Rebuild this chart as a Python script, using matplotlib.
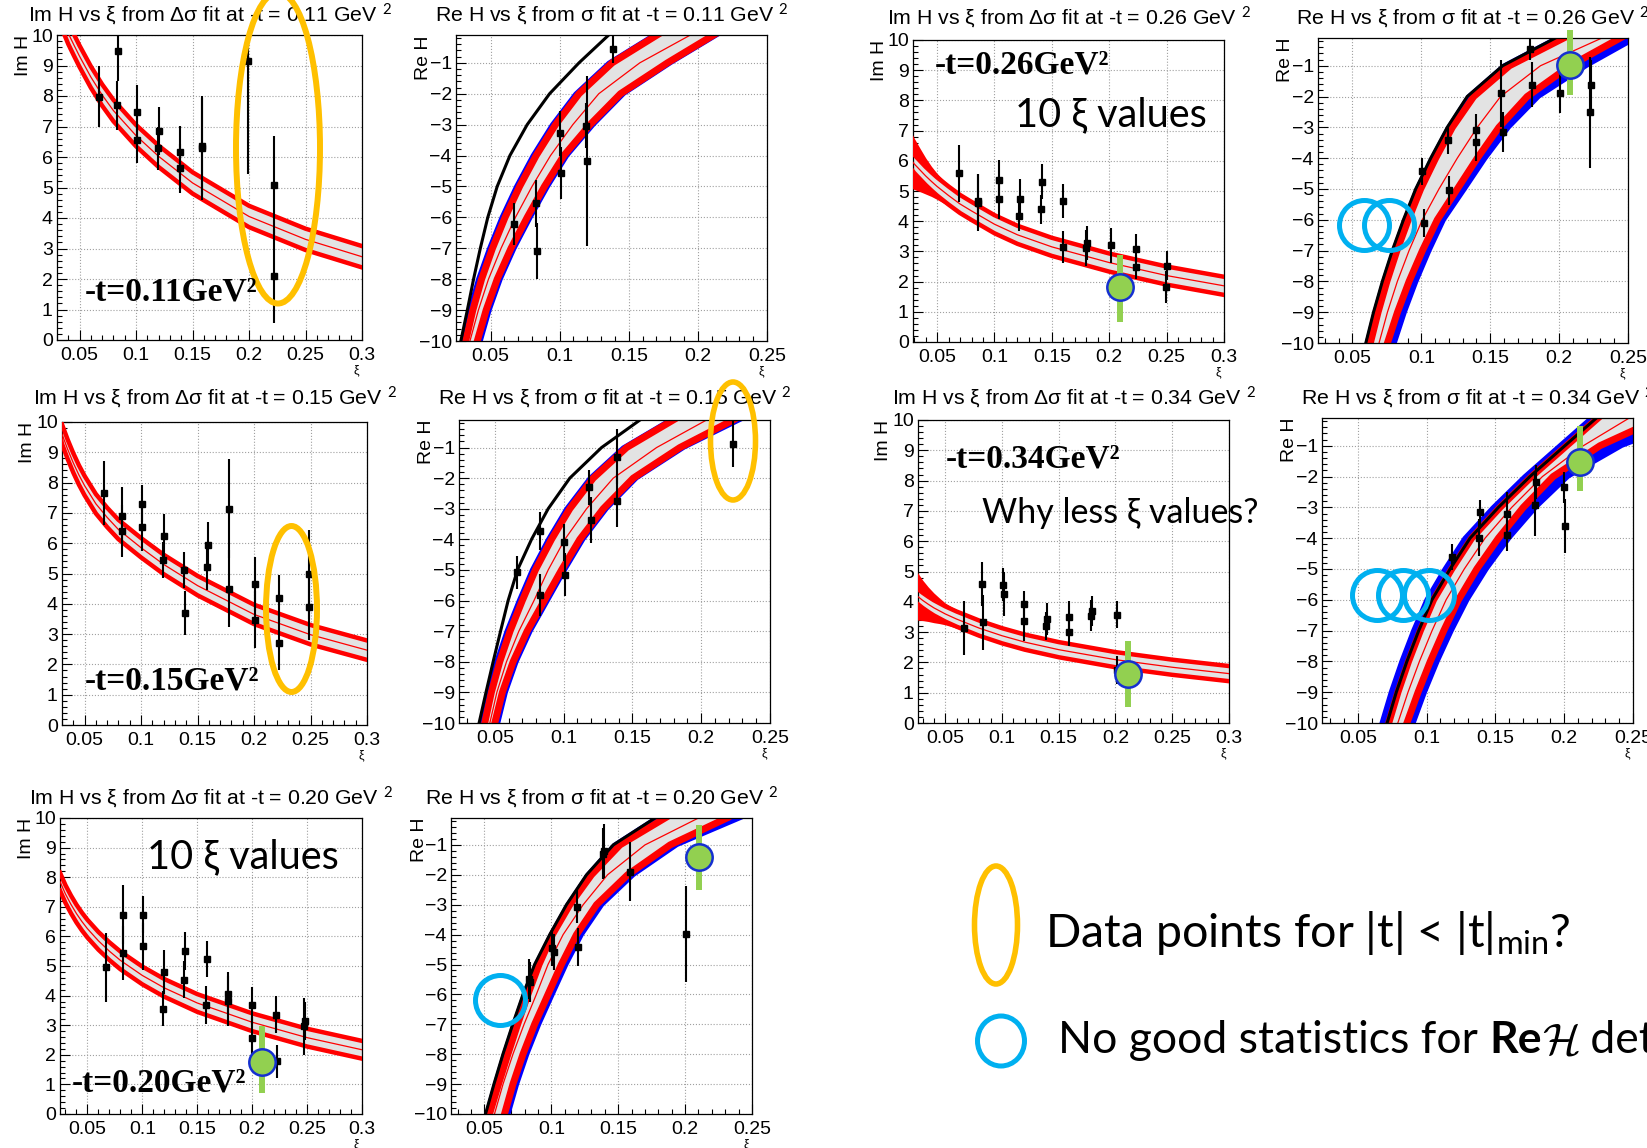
import matplotlib
matplotlib.use("Agg")
import matplotlib.pyplot as plt
from matplotlib.patches import Ellipse
from matplotlib.ticker import FixedLocator, FuncFormatter
from matplotlib.transforms import offset_copy
import numpy as np

W, H = 1647, 1148

# ---------------- Im H fit bands (value vs xi) ----------------
XI_IM = [0.025, 0.03, 0.035, 0.04, 0.045, 0.05, 0.06, 0.07, 0.08, 0.10, 0.12, 0.15, 0.20, 0.25, 0.30]

im_mid_011 = [11.6, 11.05, 10.5, 10.05, 9.67, 9.3, 8.62, 8.03, 7.52, 6.7, 6.02, 5.15, 4.05, 3.3, 2.73]
im_hw_011 = 0.35
im_wedge_011 = [0, 0, 0, 0, 0, 0, 0, 0, 0, 0, 0, 0, 0, 0, 0]

im_mid_015 = [10.3, 9.6, 9.1, 8.65, 8.25, 7.9, 7.3, 6.85, 6.45, 5.85, 5.3, 4.6, 3.65, 2.98, 2.47]
im_hw_015 = 0.32
im_wedge_015 = [0, 0, 0, 0, 0, 0, 0, 0, 0, 0, 0, 0, 0, 0, 0]

im_mid_020 = [7.85, 7.43, 7.08, 6.77, 6.5, 6.26, 5.85, 5.5, 5.19, 4.68, 4.26, 3.75, 3.1, 2.58, 2.17]
im_hw_020 = 0.3
im_wedge_020 = [0.15, 0.08, 0.03, 0, 0, 0, 0, 0, 0, 0, 0, 0, 0, 0, 0]

im_mid_026 = [6.15, 5.9, 5.7, 5.5, 5.32, 5.15, 4.85, 4.57, 4.34, 3.9, 3.55, 3.15, 2.63, 2.2, 1.86]
im_hw_026 = 0.3
im_wedge_026 = [0.7, 0.55, 0.42, 0.3, 0.2, 0.13, 0.05, 0.01, 0, 0, 0, 0, 0, 0, 0]

im_mid_034 = [4.2, 4.05, 3.92, 3.8, 3.7, 3.6, 3.43, 3.28, 3.13, 2.88, 2.67, 2.42, 2.09, 1.84, 1.63]
im_hw_034 = 0.25
im_wedge_034 = [0.55, 0.42, 0.32, 0.24, 0.17, 0.11, 0.05, 0.02, 0, 0, 0, 0, 0, 0, 0]

# ---------------- Im H extracted points ----------------
im_xi_011 = [0.0676, 0.0838, 0.0832, 0.101, 0.101, 0.1206, 0.1197, 0.139, 0.139, 0.158, 0.1585, 0.1994, 0.2224, 0.2218]
im_val_011 = [7.98, 9.49, 7.69, 7.46, 6.56, 6.85, 6.28, 6.17, 5.63, 6.3, 6.35, 9.15, 5.08, 2.1]
im_err_011 = [1.0, 1.0, 0.8, 0.9, 0.75, 0.8, 0.7, 0.85, 0.8, 1.7, 1.6, 3.7, 1.6, 1.55]

im_xi_015 = [0.067, 0.083, 0.083, 0.101, 0.101, 0.12, 0.119, 0.138, 0.139, 0.159, 0.158, 0.178, 0.178,
             0.2006, 0.2006, 0.2224, 0.2224, 0.2488, 0.2485]
im_val_015 = [7.66, 6.9, 6.41, 7.31, 6.54, 6.23, 5.44, 5.11, 3.70, 5.93, 5.22, 7.14, 4.5, 4.65, 3.48, 4.18, 2.71, 4.98, 3.9]
im_err_015 = [1.05, 0.95, 0.85, 0.6, 0.8, 0.72, 0.6, 0.6, 0.73, 0.77, 0.77, 1.63, 1.28, 0.9, 0.95, 0.77, 0.9, 1.47, 1.1]

im_xi_020 = [0.067, 0.0827, 0.0824, 0.1003, 0.1009, 0.1197, 0.1185, 0.1388, 0.1382, 0.1585, 0.1579, 0.1782, 0.1776,
             0.2, 0.2, 0.2221, 0.2227, 0.2479, 0.2473]
im_val_020 = [4.95, 6.73, 5.44, 6.73, 5.66, 4.79, 3.56, 5.5, 4.54, 5.24, 3.69, 4.07, 3.81, 3.67, 2.57, 3.36, 1.78, 3.13, 2.96]
im_err_020 = [1.18, 1.0, 0.9, 0.62, 0.78, 0.74, 0.58, 0.64, 0.62, 0.62, 0.64, 0.72, 0.85, 0.62, 0.7, 0.64, 0.55, 0.64, 0.96]

im_xi_026 = [0.0692, 0.0853, 0.086, 0.1036, 0.1036, 0.122, 0.1217, 0.141, 0.1406, 0.16, 0.1596, 0.1805, 0.18,
             0.2018, 0.2237, 0.2237, 0.2499, 0.2493]
im_val_026 = [5.58, 4.67, 4.61, 5.36, 4.74, 4.72, 4.17, 5.31, 4.39, 4.67, 3.14, 3.28, 3.11, 3.2, 3.09, 2.47, 2.53, 1.81]
im_err_026 = [0.95, 0.9, 0.95, 0.65, 0.66, 0.67, 0.5, 0.58, 0.47, 0.55, 0.53, 0.55, 0.6, 0.58, 0.47, 0.4, 0.47, 0.53]

im_xi_034 = [0.0669, 0.0825, 0.0834, 0.1009, 0.1015, 0.119, 0.1198, 0.1393, 0.1388, 0.1589, 0.1586, 0.1793, 0.1787,
             0.201, 0.201]
im_val_034 = [3.13, 4.59, 3.32, 4.56, 4.25, 3.92, 3.35, 3.44, 3.19, 3.49, 3.0, 3.7, 3.54, 3.57, 1.75]
im_err_034 = [0.9, 0.74, 0.9, 0.55, 0.73, 0.45, 0.66, 0.52, 0.46, 0.52, 0.47, 0.5, 0.52, 0.44, 0.45]

# ---------------- Re H fit bands (xi where each curve crosses a Re H level) ----------------
RE_LEVELS = [-10, -9, -8, -7, -6, -5, -4, -3, -2, -1, -0.1]

re_black_011 = [0.0285, 0.0332, 0.0377, 0.0426, 0.0480, 0.0548, 0.0640, 0.0765, 0.0927, 0.1140, 0.1355]
re_bl_011 = [0.0295, 0.0347, 0.0410, 0.0490, 0.0580, 0.0685, 0.0805, 0.0945, 0.1115, 0.1355, 0.1680]
re_rl_011 = [0.0320, 0.0372, 0.0435, 0.0514, 0.0605, 0.0710, 0.0830, 0.0970, 0.1140, 0.1380, 0.1705]
re_mid_011 = [0.0351, 0.0412, 0.0485, 0.0576, 0.0680, 0.0800, 0.0934, 0.1095, 0.1283, 0.1580, 0.1946]
re_rr_011 = [0.0404, 0.0468, 0.0548, 0.0648, 0.0765, 0.0890, 0.1030, 0.1220, 0.1440, 0.1780, 0.2114]
re_br_011 = [0.0429, 0.0493, 0.0573, 0.0673, 0.0790, 0.0915, 0.1055, 0.1245, 0.1465, 0.1805, 0.2139]

re_black_015 = [0.0386, 0.0436, 0.0488, 0.0542, 0.0597, 0.0665, 0.0767, 0.0888, 0.1045, 0.1276, 0.1555]
re_bl_015 = [0.0402, 0.0450, 0.0511, 0.0586, 0.0675, 0.0770, 0.0887, 0.1020, 0.1190, 0.1433, 0.1772]
re_rl_015 = [0.0427, 0.0475, 0.0536, 0.0611, 0.0700, 0.0795, 0.0912, 0.1045, 0.1215, 0.1458, 0.1797]
re_mid_015 = [0.0464, 0.0515, 0.0585, 0.0675, 0.0785, 0.0888, 0.1009, 0.1167, 0.1361, 0.1676, 0.2039]
re_rr_015 = [0.0500, 0.0555, 0.0633, 0.0735, 0.0860, 0.0985, 0.1118, 0.1288, 0.1506, 0.1845, 0.2233]
re_br_015 = [0.0525, 0.0580, 0.0658, 0.0760, 0.0885, 0.1010, 0.1143, 0.1313, 0.1531, 0.1875, 0.2280]

re_black_020 = [0.0508, 0.0571, 0.0638, 0.0711, 0.0788, 0.0875, 0.0988, 0.1113, 0.1263, 0.1463, 0.1775]
re_bl_020 = [0.0516, 0.0579, 0.0646, 0.0719, 0.0796, 0.0883, 0.0996, 0.1121, 0.1271, 0.1471, 0.1783]
re_rl_020 = [0.0538, 0.0605, 0.0675, 0.0748, 0.0825, 0.0908, 0.1008, 0.1138, 0.1300, 0.1513, 0.1850]
re_mid_020 = [0.0575, 0.0639, 0.0713, 0.0796, 0.0888, 0.0975, 0.1088, 0.1238, 0.1420, 0.1700, 0.2100]
re_rr_020 = [0.0650, 0.0713, 0.0788, 0.0875, 0.0975, 0.1075, 0.1188, 0.1338, 0.1570, 0.1888, 0.2313]
re_br_020 = [0.0680, 0.0744, 0.0820, 0.0909, 0.1010, 0.1112, 0.1228, 0.1380, 0.1615, 0.1940, 0.2413]

re_black_026 = [0.0597, 0.0653, 0.0717, 0.0789, 0.0870, 0.0959, 0.1068, 0.1188, 0.1333, 0.1590, 0.1973]
re_bl_026 = [0.0605, 0.0661, 0.0725, 0.0797, 0.0878, 0.0967, 0.1076, 0.1196, 0.1341, 0.1598, 0.1981]
re_rl_026 = [0.0630, 0.0686, 0.0750, 0.0823, 0.0905, 0.0995, 0.1104, 0.1225, 0.1380, 0.1640, 0.2034]
re_mid_026 = [0.0693, 0.0754, 0.0826, 0.0911, 0.1007, 0.1128, 0.1261, 0.1406, 0.1575, 0.1865, 0.2311]
re_rr_026 = [0.0754, 0.0827, 0.0911, 0.1008, 0.1116, 0.1261, 0.1406, 0.1563, 0.1768, 0.2080, 0.2444]
re_br_026 = [0.0807, 0.0880, 0.0964, 0.1059, 0.1164, 0.1316, 0.1466, 0.1635, 0.1853, 0.2200, 0.2560]

re_black_034 = [0.0713, 0.0780, 0.0857, 0.0943, 0.1039, 0.1171, 0.1316, 0.1522, 0.1751, 0.2005, 0.2234]
re_bl_034 = [0.0673, 0.0740, 0.0817, 0.0903, 0.0999, 0.1131, 0.1276, 0.1482, 0.1711, 0.1965, 0.2194]
re_rl_034 = [0.0725, 0.0792, 0.0869, 0.0955, 0.1051, 0.1183, 0.1328, 0.1534, 0.1763, 0.2017, 0.2246]
re_mid_034 = [0.0791, 0.0865, 0.0948, 0.1040, 0.1142, 0.1274, 0.1425, 0.1619, 0.1842, 0.2139, 0.2473]
re_rr_034 = [0.0857, 0.0938, 0.1027, 0.1125, 0.1232, 0.1365, 0.1522, 0.1703, 0.1920, 0.2260, 0.2700]
re_br_034 = [0.0906, 0.0988, 0.1080, 0.1183, 0.1297, 0.1437, 0.1601, 0.1795, 0.2029, 0.2420, 0.2950]

# ---------------- Re H extracted points ----------------
re_xi_011 = [0.0669, 0.0828, 0.0833, 0.1006, 0.1013, 0.1187, 0.1199, 0.1384]
re_val_011 = [-6.22, -5.55, -7.08, -3.28, -4.55, -3.03, -4.17, -0.56]
re_err_011 = [0.68, 0.77, 0.9, 0.72, 0.84, 0.72, 2.75, 0.46]

re_xi_015 = [0.0658, 0.0827, 0.0832, 0.1002, 0.1012, 0.1186, 0.1196, 0.139, 0.1385, 0.2228]
re_val_015 = [-5.08, -3.72, -5.82, -4.1, -5.16, -2.3, -3.36, -1.3, -2.74, -0.89]
re_err_015 = [0.53, 0.63, 0.7, 0.6, 0.7, 0.58, 0.76, 0.9, 0.87, 0.75]

re_xi_020 = [0.083, 0.0843, 0.1008, 0.1018, 0.1195, 0.1203, 0.1383, 0.1395, 0.1588, 0.2008]
re_val_020 = [-5.5, -5.58, -4.46, -4.57, -3.06, -4.41, -1.3, -1.2, -1.89, -3.98]
re_err_020 = [0.67, 0.67, 0.6, 0.6, 0.55, 0.64, 0.85, 0.9, 1.0, 1.6]

re_xi_026 = [0.1007, 0.1019, 0.1193, 0.12, 0.1394, 0.1398, 0.158, 0.1594, 0.1787, 0.18, 0.2005, 0.2232, 0.2227]
re_val_026 = [-4.43, -6.1, -3.42, -5.05, -3.48, -3.07, -1.9, -3.16, -0.45, -1.61, -1.9, -1.61, -2.51]
re_err_026 = [0.43, 0.45, 0.43, 0.48, 0.6, 0.5, 1.1, 0.65, 0.35, 0.72, 0.65, 0.8, 1.8]

re_xi_034 = [0.1188, 0.1389, 0.1384, 0.1587, 0.1587, 0.1792, 0.1787, 0.20, 0.2005]
re_val_034 = [-4.62, -3.16, -3.99, -3.21, -3.91, -2.19, -2.91, -2.35, -3.61]
re_err_034 = [0.42, 0.4, 0.6, 0.7, 0.52, 0.55, 1.03, 0.5, 0.87]

# green reference points: xi, value, low end, high end
green_im_020 = [0.209, 1.75, 0.71, 2.96]
green_im_026 = [0.209, 1.81, 0.67, 2.89]
green_im_034 = [0.2107, 1.63, 0.53, 2.69]
green_re_020 = [0.2105, -1.39, -2.51, -0.32]
green_re_026 = [0.2082, -0.98, -1.94, 0.17]
green_re_034 = [0.2114, -1.54, -2.48, -0.37]

# cyan "no good statistics" rings (xi positions, Re H level)
ring_xi_020 = [0.0613]
ring_re_020 = -6.2
ring_xi_026 = [0.0585, 0.0766]
ring_re_026 = -6.16
ring_xi_034 = [0.064, 0.0829, 0.1015]
ring_re_034 = -5.83

# ---------------- style ----------------
plt.rcParams["font.family"] = ["Liberation Sans", "DejaVu Sans"]
plt.rcParams["mathtext.fontset"] = "custom"
plt.rcParams["mathtext.rm"] = "Lato"
plt.rcParams["mathtext.it"] = "Lato:italic"
plt.rcParams["mathtext.bf"] = "Lato:bold"

GREY = "#e3e3e3"
GREEN = "#92d050"
CYAN = "#00b0f0"
ORANGE = "#ffc000"
SLIDE = ["Lato", "DejaVu Sans"]

fig = plt.figure(figsize=(W / 100, H / 100), dpi=100)
fig.patch.set_facecolor("white")


def fx(x):
    return x / W


def fy(y):
    return 1 - y / H


def box_axes(l, t, r, b):
    return fig.add_axes([l / W, 1 - b / H, (r - l) / W, (b - t) / H])


def tick_fmt(v, pos):
    return f"{v:g}".replace("-", "\u2212")


def style_axes(ax, xlim, ylim, xmaj, ymaj):
    ax.set_xlim(*xlim)
    ax.set_ylim(*ylim)
    ax.xaxis.set_major_locator(FixedLocator(xmaj))
    ax.xaxis.set_minor_locator(FixedLocator(np.arange(0.02, 0.305, 0.01)))
    ax.yaxis.set_major_locator(FixedLocator(ymaj))
    ax.yaxis.set_minor_locator(FixedLocator(np.arange(-10, 10.01, 0.2)))
    ax.xaxis.set_major_formatter(FuncFormatter(tick_fmt))
    ax.yaxis.set_major_formatter(FuncFormatter(tick_fmt))
    ax.tick_params(which="both", direction="in", top=False, right=False, labelsize=14, width=0.8)
    ax.tick_params(axis="x", which="major", length=7, pad=5)
    ax.tick_params(axis="y", which="major", length=7, pad=3)
    ax.tick_params(which="minor", length=3.5)
    ax.grid(True, which="major", ls=":", color="#a0a0a0", lw=0.8)
    ax.set_axisbelow(True)
    for sp in ax.spines.values():
        sp.set_linewidth(0.9)
    ax.text(1.0, 0.0, "ξ", fontsize=9, ha="right", va="top",
            transform=offset_copy(ax.transAxes, fig=fig, x=-3, y=-24, units="dots"))


def add_title(box, text, base):
    l, t, r, b = box
    fig.text(fx((l + r) / 2), fy(base), text, ha="center", va="baseline", fontsize=15.3)


def draw_green(ax, g):
    ax.plot([g[0], g[0]], [g[2], g[3]], color=GREEN, lw=4.3, solid_capstyle="butt", clip_on=False, zorder=8)
    ax.plot(g[0], g[1], "o", ms=19, mfc=GREEN, mec="#1530d0", mew=1.8, clip_on=False, zorder=9)


def im_panel(box, xlim, tlabel, base, mid, hw, wedge, pxi, pval, perr, green=None):
    ax = box_axes(*box)
    style_axes(ax, xlim, (0, 10), [0.05, 0.1, 0.15, 0.2, 0.25, 0.3], list(range(0, 11)))
    xi = np.array(XI_IM)
    mid = np.array(mid)
    w = np.array(wedge)
    up, lo = mid + hw, mid - hw
    ax.fill_between(xi, lo, up, color=GREY, lw=0, zorder=2)
    ax.fill_between(xi, up, up + w, color="red", lw=0, zorder=3)
    ax.fill_between(xi, lo - w, lo, color="red", lw=0, zorder=3)
    ax.plot(xi, up, color="red", lw=3.2, zorder=3)
    ax.plot(xi, lo, color="red", lw=3.2, zorder=3)
    ax.plot(xi, mid, color="red", lw=0.9, zorder=3)
    ax.errorbar(pxi, pval, yerr=perr, fmt="s", color="black", ms=5, elinewidth=1.5, capsize=0, zorder=5)
    ax.text(0.0, 1.0, "Im H", rotation=90, ha="center", va="top", fontsize=14,
            transform=offset_copy(ax.transAxes, fig=fig, x=-34, y=0, units="dots"))
    add_title(box, f"Im H vs ξ from Δσ fit at -t = {tlabel} GeV $^{{2}}$", base)
    if green is not None:
        draw_green(ax, green)
    return ax


def re_panel(box, xlim, tlabel, base, black, bl, rl, mid, rr, br, pxi, pval, perr, green=None, rings=None):
    ax = box_axes(*box)
    style_axes(ax, xlim, (-10, -0.1), [0.05, 0.1, 0.15, 0.2, 0.25], list(range(-10, 0)))
    lev = np.array(RE_LEVELS)
    ax.fill_betweenx(lev, bl, br, color="blue", lw=0, zorder=2)
    ax.fill_betweenx(lev, rl, rr, color=GREY, lw=0, zorder=2.1)
    ax.plot(bl, lev, color="blue", lw=3, zorder=2.2)
    ax.plot(br, lev, color="blue", lw=3, zorder=2.2)
    ax.plot(rl, lev, color="red", lw=5, zorder=2.3)
    ax.plot(rr, lev, color="red", lw=5, zorder=2.3)
    ax.plot(mid, lev, color="red", lw=0.9, zorder=2.4)
    ax.plot(black, lev, color="black", lw=2.2, zorder=2.5)
    ax.errorbar(pxi, pval, yerr=perr, fmt="s", color="black", ms=5, elinewidth=1.5, capsize=0, zorder=5)
    ax.text(0.0, 1.0, "Re H", rotation=90, ha="center", va="top", fontsize=14,
            transform=offset_copy(ax.transAxes, fig=fig, x=-32, y=0, units="dots"))
    add_title(box, f"Re H vs ξ from σ fit at -t = {tlabel} GeV $^{{2}}$", base)
    if green is not None:
        draw_green(ax, green)
    if rings is not None:
        rxi, rval = rings
        ax.plot(rxi, [rval] * len(rxi), "o", ms=36, mfc="none", mec=CYAN, mew=3.6,
                clip_on=False, zorder=10, ls="none")
    return ax


# ---------------- panels ----------------
im_panel((57, 35, 362, 340), (0.03, 0.3), "0.11", 22, im_mid_011, im_hw_011, im_wedge_011,
         im_xi_011, im_val_011, im_err_011)
re_panel((456, 35, 767, 341), (0.025, 0.25), "0.11", 22, re_black_011, re_bl_011, re_rl_011, re_mid_011,
         re_rr_011, re_br_011, re_xi_011, re_val_011, re_err_011)

im_panel((62, 422, 367, 725), (0.03, 0.3), "0.15", 405, im_mid_015, im_hw_015, im_wedge_015,
         im_xi_015, im_val_015, im_err_015)
re_panel((459, 420, 770, 723), (0.024, 0.25), "0.15", 405, re_black_015, re_bl_015, re_rl_015, re_mid_015,
         re_rr_015, re_br_015, re_xi_015, re_val_015, re_err_015)

im_panel((60, 818, 362, 1114), (0.025, 0.3), "0.20", 805, im_mid_020, im_hw_020, im_wedge_020,
         im_xi_020, im_val_020, im_err_020, green=green_im_020)
re_panel((451, 818, 752, 1114), (0.025, 0.25), "0.20", 805, re_black_020, re_bl_020, re_rl_020, re_mid_020,
         re_rr_020, re_br_020, re_xi_020, re_val_020, re_err_020, green=green_re_020,
         rings=(ring_xi_020, ring_re_020))

im_panel((913, 40, 1224, 342), (0.029, 0.3), "0.26", 25, im_mid_026, im_hw_026, im_wedge_026,
         im_xi_026, im_val_026, im_err_026, green=green_im_026)
re_panel((1318, 38, 1628, 343), (0.025, 0.25), "0.26", 25, re_black_026, re_bl_026, re_rl_026, re_mid_026,
         re_rr_026, re_br_026, re_xi_026, re_val_026, re_err_026, green=green_re_026,
         rings=(ring_xi_026, ring_re_026))

im_panel((918, 420, 1229, 723), (0.026, 0.3), "0.34", 405, im_mid_034, im_hw_034, im_wedge_034,
         im_xi_034, im_val_034, im_err_034, green=green_im_034)
re_panel((1322, 418, 1633, 723), (0.024, 0.25), "0.34", 405, re_black_034, re_bl_034, re_rl_034, re_mid_034,
         re_rr_034, re_br_034, re_xi_034, re_val_034, re_err_034, green=green_re_034,
         rings=(ring_xi_034, ring_re_034))

# ---------------- slide annotations ----------------
for txt, x, y in [("-t=0.11GeV²", 85, 300), ("-t=0.15GeV²", 85, 690), ("-t=0.20GeV²", 72, 1092),
                  ("-t=0.26GeV²", 935, 73), ("-t=0.34GeV²", 946, 467)]:
    fig.text(fx(x), fy(y), txt, family="Liberation Serif", fontweight="bold", fontsize=24,
             ha="left", va="baseline", zorder=20)

fig.text(fx(1015), fy(126), "10 ξ values", family=SLIDE, fontsize=28.5, ha="left", va="baseline", zorder=20)
fig.text(fx(147), fy(868), "10 ξ values", family=SLIDE, fontsize=28.5, ha="left", va="baseline", zorder=20)
fig.text(fx(982), fy(523), "Why less ξ values?", family=SLIDE, fontsize=24.5, ha="left", va="baseline", zorder=20)

for cx, cy, w, h, lw in [(278, 148, 84, 311, 4.3), (291.5, 609, 51, 166, 4.3), (733, 441, 45, 118, 4.0),
                         (996, 925, 43, 118, 4.0)]:
    fig.add_artist(Ellipse((fx(cx), fy(cy)), w / W, h / H, transform=fig.transFigure,
                           fill=False, ec=ORANGE, lw=lw, zorder=15))
fig.add_artist(Ellipse((fx(1001), fy(1041)), 47 / W, 50 / H, transform=fig.transFigure,
                       fill=False, ec=CYAN, lw=3.6, zorder=15))

fig.text(fx(1045), fy(947), r"Data points for |t| < |t|$_{\mathrm{min}}$?", family=SLIDE, fontsize=33.5,
         ha="left", va="baseline", zorder=20)

renderer = fig.canvas.get_renderer()
x0 = 1058
parts = [("No good statistics for ", {}), ("Re", {"fontweight": "bold"}),
         (r"$\mathcal{H}$", {"math_fontfamily": "cm"}), (" det", {})]
for s, kw in parts:
    t = fig.text(fx(x0), fy(1053), s, family=SLIDE, fontsize=32, ha="left", va="baseline", zorder=20, **kw)
    bb = t.get_window_extent(renderer=renderer)
    x0 = bb.x1

fig.savefig("out.png", dpi=100, facecolor="white")
